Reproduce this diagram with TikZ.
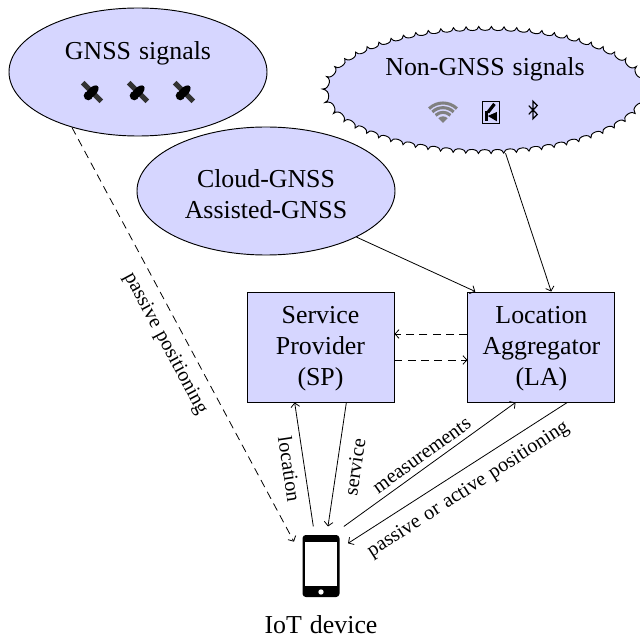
\documentclass[tikz,border=0pt]{standalone}
\usepackage{fontspec}
\setmainfont[WordSpace=1.25]{Liberation Serif}
\usepackage{xcolor}
\usepackage{tikz}
\usetikzlibrary{positioning}
\usetikzlibrary{arrows.meta}
\usetikzlibrary{shapes.geometric}
\usetikzlibrary{decorations.pathmorphing}

\definecolor{lav}{RGB}{214,214,255}
\tikzset{
	>={Straight Barb[length=3pt,width=6.5pt]},
	big/.style={font=\fontsize{19.4}{23.2}\selectfont,align=center},
	lab/.style={font=\fontsize{15.2}{18}\selectfont,inner sep=4pt},
	sig/.style={ellipse,draw=black,fill=lav,line width=0.7pt,inner sep=0pt,minimum width=193.5pt,minimum height=96pt},
	nonsig/.style={sig,minimum width=240pt,minimum height=95pt,decorate,decoration={bumps,segment length=19pt,amplitude=2.8pt}},
	unit/.style={rectangle,draw=black,fill=lav,line width=0.7pt,minimum width=110.25pt,minimum height=82.5pt,inner sep=0pt},
	phone/.style={rectangle,fill=black,rounded corners=2.5pt,minimum width=27.75pt,minimum height=46.5pt,inner sep=0pt,outer sep=6.4pt},
	conn/.style={->,line width=0.6pt},
	dconn/.style={conn,dash pattern=on 6pt off 4pt},
	satellite/.pic={
		\draw[line width=3.8pt,black!80] (-7pt,7pt) -- (7pt,-7pt);
		\fill[black,rotate=-45] (0,0) ellipse (3.2pt and 6.2pt);
		\fill[black] (-2.8pt,-2.8pt) circle (3.4pt);
	},
	wifi/.pic={
		\fill[black!50] (0,0) -- (46:5pt) arc (46:134:5pt) -- cycle;
		\foreach \r in {8,11.5,15}
			\draw[black!50,line width=2.3pt] (46:\r pt) arc (46:134:\r pt);
	},
	booth/.pic={
		\draw[black,line width=0.7pt] (-6.5pt,-8pt) rectangle (6.5pt,8pt);
		\draw[black,line width=2.4pt] (2.6pt,6.4pt) -- (-2.4pt,0pt);
		\fill[black] (-4.6pt,1.2pt) rectangle (-2.4pt,-6.6pt);
		\fill[black] (-2.4pt,-2.6pt) -- (4.4pt,0.4pt) -- (4.4pt,-6.6pt) -- cycle;
	},
	bluet/.pic={
		\draw[black,line width=0.9pt] (-3.2pt,3.3pt) -- (3.2pt,-3.3pt) -- (0,-6.6pt) -- (0,6.6pt) -- (3.2pt,3.3pt) -- (-3.2pt,-3.3pt);
	}
}

\begin{document}
\begin{tikzpicture}[x=0.75pt,y=-0.75pt]
	\useasboundingbox (0,0) rectangle (640,638);

	% signal sources
	\node[sig] (gnss) at (138,72) {};
	\node[big] (gnsstext) at (138,53.5) {GNSS signals};
	\foreach \i in {92,138,184}
		\pic at (\i,92) {satellite};

	\node[nonsig] (nongnss) at (485,90) {};
	\node[big] (nongnsstext) at (485,69) {Non-GNSS signals};
	\pic at (443,123) {wifi};
	\pic at (491,112.5) {booth};
	\pic at (533,110) {bluet};

	\node[sig] (cloud) at (266,191) {};
	\node[big] (cloudtext) at (266,194) {Cloud-GNSS\\Assisted-GNSS};

	% service side
	\node[unit] (sp) at (320.5,347) {};
	\node[unit] (la) [right = 54.75pt of sp] {};
	\node[big] (sptext) at ([yshift=-1.5pt]sp.center) {Service\\Provider\\(SP)};
	\node[big] (latext) at ([yshift=-1.5pt]la.center) {Location\\Aggregator\\(LA)};

	% device
	\node[phone] (iot) at (321,566) {};
	\node[rectangle,fill=white,minimum width=23.5pt,minimum height=33.5pt,inner sep=0pt] (screen) at (321,564) {};
	\node[circle,fill=white,minimum size=4pt,inner sep=0pt] (homekey) at (321,592) {};
	\node[big] (iotlabel) at (321,625) {IoT device};

	\draw[dconn] (gnss.-140) -- node[lab,sloped,below,pos=0.5,inner sep=8pt] {passive positioning} (iot.138);
	\draw[conn] (cloud.-27) -- (la.140);
	\draw[conn] (nongnss.-72) -- (la.80);
	\draw[dconn] ([yshift=9.75pt]la.west) -- ([yshift=9.75pt]sp.east);
	\draw[dconn] ([yshift=-9.75pt]sp.east) -- ([yshift=-9.75pt]la.west);
	\draw[conn] (iot.101) -- node[lab,sloped,below,pos=0.48,inner sep=5.5pt] {location} (sp.-115);
	\draw[conn] (sp.-65) -- node[lab,sloped,below,pos=0.5,inner sep=8pt] {service} (iot.80);
	\draw[conn] (iot.60) -- node[lab,sloped,above,pos=0.495] {measurements} (la.-115);
	\draw[conn] (la.-65) -- node[lab,sloped,below,pos=0.5,inner sep=8pt] {passive or active positioning} (iot.40);
\end{tikzpicture}
\end{document}
